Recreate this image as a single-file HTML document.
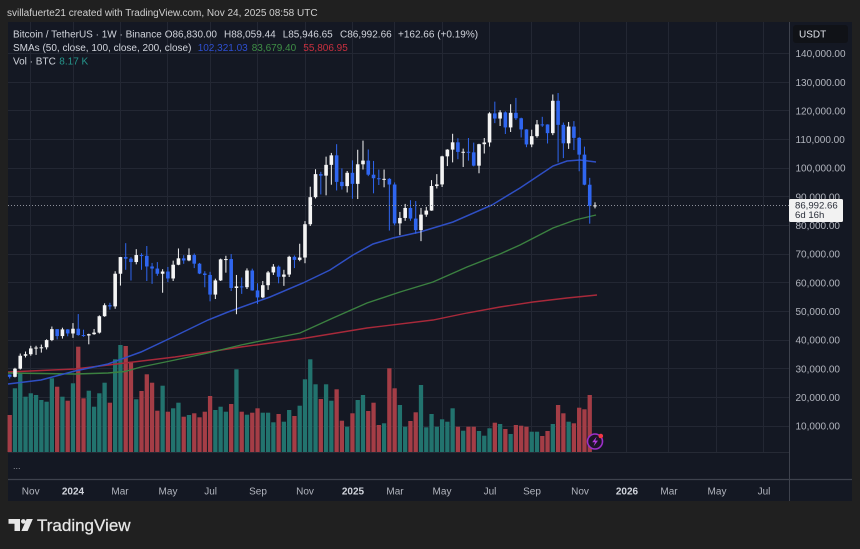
<!DOCTYPE html>
<html>
<head>
<meta charset="utf-8">
<style>
  html,body{margin:0;padding:0;background:#202020;}
  body{width:860px;height:549px;overflow:hidden;position:relative;font-family:"Liberation Sans",sans-serif;}
  svg{position:absolute;left:0;top:0;display:block;}
  svg text{font-family:"Liberation Sans",sans-serif;}
</style>
</head>
<body>
<svg id="chart" width="860" height="549" viewBox="0 0 860 549" xmlns="http://www.w3.org/2000/svg">
  <rect x="0" y="0" width="860" height="549" fill="#202020"/>
  <!-- header -->
  <text x="7" y="16" font-size="10" fill="#cfcfcf">svillafuerte21 created with TradingView.com, Nov 24, 2025 08:58 UTC</text>
  <!-- panel -->
  <rect x="8" y="22" width="844" height="479" fill="#141823"/>

  <!-- horizontal grid -->
  <g stroke="#232733" stroke-width="1">
    <line x1="8" x2="789" y1="53.5" y2="53.5"/>
    <line x1="8" x2="789" y1="82.5" y2="82.5"/>
    <line x1="8" x2="789" y1="110.5" y2="110.5"/>
    <line x1="8" x2="789" y1="139.5" y2="139.5"/>
    <line x1="8" x2="789" y1="168.5" y2="168.5"/>
    <line x1="8" x2="789" y1="196.5" y2="196.5"/>
    <line x1="8" x2="789" y1="225.5" y2="225.5"/>
    <line x1="8" x2="789" y1="254.5" y2="254.5"/>
    <line x1="8" x2="789" y1="282.5" y2="282.5"/>
    <line x1="8" x2="789" y1="311.5" y2="311.5"/>
    <line x1="8" x2="789" y1="340.5" y2="340.5"/>
    <line x1="8" x2="789" y1="368.5" y2="368.5"/>
    <line x1="8" x2="789" y1="397.5" y2="397.5"/>
    <line x1="8" x2="789" y1="426.5" y2="426.5"/>
  </g>
  <!-- vertical grid -->
  <g stroke="#232733" stroke-width="1">
    <line y1="22" y2="452" x1="30.5" x2="30.5"/>
    <line y1="22" y2="452" x1="73.5" x2="73.5"/>
    <line y1="22" y2="452" x1="120.5" x2="120.5"/>
    <line y1="22" y2="452" x1="167.5" x2="167.5"/>
    <line y1="22" y2="452" x1="210.5" x2="210.5"/>
    <line y1="22" y2="452" x1="257.5" x2="257.5"/>
    <line y1="22" y2="452" x1="305.5" x2="305.5"/>
    <line y1="22" y2="452" x1="352.5" x2="352.5"/>
    <line y1="22" y2="452" x1="394.5" x2="394.5"/>
    <line y1="22" y2="452" x1="442.5" x2="442.5"/>
    <line y1="22" y2="452" x1="489.5" x2="489.5"/>
    <line y1="22" y2="452" x1="531.5" x2="531.5"/>
    <line y1="22" y2="452" x1="579.5" x2="579.5"/>
    <line y1="22" y2="452" x1="626.5" x2="626.5"/>
    <line y1="22" y2="452" x1="668.5" x2="668.5"/>
    <line y1="22" y2="452" x1="716.5" x2="716.5"/>
    <line y1="22" y2="452" x1="763.5" x2="763.5"/>
  </g>
  <line x1="8" x2="789" y1="452.5" y2="452.5" stroke="#262a35" stroke-width="1"/>

  <!-- volume -->
  <g id="vol"></g>

  <!-- SMAs -->
  <polyline fill="none" stroke="#a8293a" stroke-width="1.4" points="8,372 75,369 125,363 175,357 241,347 300,339 367,328 433,320 467,313 500,307 533,302 567,298 597,295"/>
  <polyline fill="none" stroke="#3b8040" stroke-width="1.4" points="8,373 75,374 108,373 125,371.5 141,367 175,360 208,353 241,345 275,338 300,333 333,318 367,303 400,292 433,282 467,267 500,254 520,245 553,228 575,220 596,215"/>
  <polyline fill="none" stroke="#2f4fc4" stroke-width="1.5" points="8,384 41,380 75,371 108,364 141,352 175,336 208,320 228,312 270,297 303,283 330,270 353,255 373,244 393,238 420,232 453,222 492,205 520,188 553,166 567,161 580,160 596,162"/>

  <!-- candles -->
  <g id="cdl"></g>

  <!-- current price dotted line -->
  <line x1="8" x2="789" y1="205.5" y2="205.5" stroke="#8d909a" stroke-width="1" stroke-dasharray="1 2"/>

  <!-- separators -->
  <line x1="8" x2="852" y1="479.5" y2="479.5" stroke="#3e424d" stroke-width="1.2"/>
  <line x1="789.5" x2="789.5" y1="22" y2="501" stroke="#3e424d" stroke-width="1"/>

  <!-- legend -->
  <g font-size="10" fill="#d1d4dc">
    <text x="13" y="37.6">Bitcoin / TetherUS · 1W · Binance</text>
    <text x="164.7" y="37.6">O86,830.00</text>
    <text x="224" y="37.6">H88,059.44</text>
    <text x="282.7" y="37.6">L85,946.65</text>
    <text x="340" y="37.6">C86,992.66</text>
    <text x="398" y="37.6">+162.66 (+0.19%)</text>
    <text x="13" y="51">SMAs (50, close, 100, close, 200, close)</text>
    <text x="197.7" y="51" fill="#2e4fd0">102,321.03</text>
    <text x="251.7" y="51" fill="#3f8f46">83,679.40</text>
    <text x="303.3" y="51" fill="#c8303f">55,806.95</text>
    <text x="13" y="64.5">Vol · BTC</text>
    <text x="59.3" y="64.5" fill="#26968c">8.17 K</text>
  </g>

  <!-- price axis -->
  <rect x="793" y="25" width="55" height="18" rx="3" fill="#101217"/>
  <text x="799" y="37.6" font-size="10" fill="#e0e3ea">USDT</text>
  <g font-size="10" fill="#b2b5be">
    <text x="795.5" y="57.1">140,000.00</text>
    <text x="795.5" y="85.8">130,000.00</text>
    <text x="795.5" y="114.4">120,000.00</text>
    <text x="795.5" y="143.1">110,000.00</text>
    <text x="795.5" y="171.7">100,000.00</text>
    <text x="795.5" y="200.4">90,000.00</text>
    <text x="795.5" y="229">80,000.00</text>
    <text x="795.5" y="257.7">70,000.00</text>
    <text x="795.5" y="286.3">60,000.00</text>
    <text x="795.5" y="315">50,000.00</text>
    <text x="795.5" y="343.6">40,000.00</text>
    <text x="795.5" y="372.3">30,000.00</text>
    <text x="795.5" y="400.9">20,000.00</text>
    <text x="795.5" y="429.6">10,000.00</text>
  </g>
  <rect x="789" y="199" width="54" height="23" rx="1.5" fill="#f2f2f2"/>
  <text x="795" y="208.6" font-size="9.6" fill="#2a2e39">86,992.66</text>
  <text x="795" y="218.2" font-size="9.6" fill="#2a2e39">6d 16h</text>

  <!-- time axis -->
  <g font-size="10" fill="#b2b5be" text-anchor="middle">
    <text x="30.7" y="494.6">Nov</text>
    <text x="73" y="494.6" font-weight="bold" fill="#d1d4dc">2024</text>
    <text x="120" y="494.6">Mar</text>
    <text x="168" y="494.6">May</text>
    <text x="210.6" y="494.6">Jul</text>
    <text x="258" y="494.6">Sep</text>
    <text x="305" y="494.6">Nov</text>
    <text x="353" y="494.6" font-weight="bold" fill="#d1d4dc">2025</text>
    <text x="395" y="494.6">Mar</text>
    <text x="442" y="494.6">May</text>
    <text x="490" y="494.6">Jul</text>
    <text x="532" y="494.6">Sep</text>
    <text x="580" y="494.6">Nov</text>
    <text x="627" y="494.6" font-weight="bold" fill="#d1d4dc">2026</text>
    <text x="669" y="494.6">Mar</text>
    <text x="717" y="494.6">May</text>
    <text x="764" y="494.6">Jul</text>
  </g>

  <!-- collapsed pane dots -->
  <text x="13" y="469" font-size="9" fill="#9598a1">...</text>

  <!-- lightning icon -->
  <circle cx="595" cy="441.5" r="7.5" fill="#1c1526" stroke="#9c2fc9" stroke-width="1.6"/>
  <path d="M596.6 436.6 L592.2 442.2 L595 442.2 L593.6 446.4 L598 440.6 L595.2 440.6 Z" fill="#b23be0"/>
  <circle cx="600.8" cy="436" r="2.3" fill="#f23645"/>

  <!-- footer logo -->
  <g fill="#e6e6e6">
    <path d="M8.5 519 H20 V531 H14.5 V523.8 H8.5 Z"/>
    <circle cx="23.3" cy="521.4" r="2.3"/>
    <polygon points="26.6,519 32.8,519 27.6,531 21.4,531"/>
  </g>
  <text x="37" y="531" font-size="17" fill="#e6e6e6" stroke="#e6e6e6" stroke-width="0.25">TradingView</text>
</svg>

<script>
(function(){
  var D=[
  [27.95,28.0,26.55,27.15],[27.15,30.3,26.95,29.99],[29.99,35.28,29.7,34.5],[34.5,35.98,33.9,35.03],
  [35.03,37.97,34.5,37.06],[37.06,37.98,34.8,37.36],[37.36,38.4,35.6,37.45],[37.45,40.25,36.7,39.97],
  [39.97,44.7,39.6,43.79],[43.79,43.8,40.2,41.37],[41.37,44.3,40.5,43.7],[43.7,43.8,41.3,42.28],
  [42.28,45.9,40.75,43.93],[43.93,49.05,41.5,41.73],[41.73,43.6,41.1,41.58],[41.58,42.2,38.5,42.03],
  [42.03,43.85,41.8,42.58],[42.58,48.6,42.25,48.3],[48.3,52.8,48.1,52.14],[52.14,52.98,50.6,51.73],
  [51.73,64.0,50.9,63.13],[63.13,69.0,59.0,68.95],[68.95,73.8,64.5,68.39],[68.39,68.9,60.77,67.21],
  [67.21,71.7,66.4,69.65],[69.65,70.3,64.5,69.36],[69.36,72.8,60.6,65.66],[65.66,66.9,59.6,64.94],
  [64.94,67.2,62.4,63.12],[63.12,64.7,56.5,63.9],[63.9,65.5,60.2,61.48],[61.48,67.7,60.6,66.27],
  [66.27,71.95,66.1,68.51],[68.51,69.6,66.6,67.76],[67.76,71.98,67.5,69.65],[69.65,70.2,65.1,66.64],
  [66.64,66.9,63.0,63.2],[63.2,64.0,58.4,62.7],[62.7,63.8,53.5,55.85],[55.85,61.4,54.3,60.8],
  [60.8,68.4,60.6,68.15],[68.15,69.4,63.5,68.25],[68.25,70.0,57.1,58.16],[58.16,62.7,49.0,58.71],
  [58.71,61.8,56.1,58.43],[58.43,65.0,57.8,64.25],[64.25,64.9,57.2,57.3],[57.3,59.8,52.55,54.86],
  [54.86,60.6,54.6,59.13],[59.13,64.1,57.5,63.58],[63.58,66.5,62.7,65.6],[65.6,66.0,59.8,62.07],
  [62.07,64.5,58.9,62.85],[62.85,69.4,62.0,69.03],[69.03,69.5,65.1,67.97],[67.97,73.6,67.5,68.78],
  [68.78,81.5,66.8,80.4],[80.4,93.5,79.8,89.85],[89.85,99.6,89.4,97.9],[97.9,98.7,90.8,97.37],
  [97.37,104.0,90.5,101.13],[101.13,105.3,94.2,104.46],[104.46,108.35,92.2,95.19],[95.19,99.9,92.5,93.71],
  [93.71,99.0,91.5,98.36],[98.36,102.7,89.3,94.5],[94.5,106.4,89.2,101.33],[101.33,109.59,99.5,102.62],
  [102.62,106.5,97.2,97.7],[97.7,102.5,91.2,96.46],[96.46,99.5,94.1,96.12],[96.12,99.5,93.3,96.25],
  [96.25,96.5,78.2,94.27],[94.27,95.0,80.0,80.7],[80.7,84.7,76.6,82.6],[82.6,87.5,81.6,86.08],
  [86.08,88.8,81.6,82.38],[82.38,88.5,77.1,78.37],[78.37,86.1,74.5,83.76],[83.76,86.5,83.0,85.17],
  [85.17,95.8,85.1,93.75],[93.75,97.9,92.9,94.3],[94.3,104.3,93.4,104.1],[104.1,106.6,100.7,106.45],
  [106.45,111.98,102.0,109.0],[109.0,110.4,103.1,105.65],[105.65,106.8,100.4,105.7],[105.7,110.5,102.6,105.5],
  [105.5,108.9,100.6,100.85],[100.85,108.5,98.2,108.35],[108.35,110.5,105.1,108.95],[108.95,119.5,107.5,119.1],
  [119.1,123.2,115.7,117.3],[117.3,120.2,114.7,119.45],[119.45,119.8,111.9,114.2],[114.2,122.3,112.6,119.3],
  [119.3,124.5,116.8,117.4],[117.4,117.6,110.7,113.5],[113.5,113.6,107.3,108.25],[108.25,113.4,107.3,111.15],
  [111.15,116.8,110.6,115.25],[115.25,117.9,114.4,115.23],[115.23,115.3,108.6,112.2],[112.2,125.7,111.5,123.5],
  [123.5,126.2,102.0,115.1],[115.1,115.9,103.5,108.65],[108.65,116.1,106.7,114.5],[114.5,116.4,106.3,110.55],
  [110.55,110.8,98.9,104.7],[104.7,107.5,94.0,94.2],[94.2,96.6,80.6,86.83],[86.83,88.06,85.95,86.99]
  ];
  var V=[415,388.3,373.3,396.7,393.3,395,400,401.7,378.3,386.7,396.7,400.7,383.3,346.7,398.3,390.7,
  406.7,393.3,382.7,402.7,359.3,345,346,361.7,399.3,391,374.3,382.7,410.7,385.7,411.7,408.3,402.7,
  416.7,415,413.3,417.3,411.7,396,410,406.7,411.7,404,369.3,411.7,414.7,412.7,408.3,412.7,412.7,
  422.3,414,421.7,410,416,405.7,379.3,
  359.3,384.3,399,384.3,400.7,389.3,420.7,426.7,413.3,400,395,411,402.7,425,423.3,368.3,388.3,405,
  426.7,421,412.3,385,427.3,414,426.7,419.3,421.7,408.3,426.7,430.7,426.7,426.7,431,435.7,428.3,
  422.7,424,429,434,425,425.7,426.7,431.7,431.7,436,431,424,405,413.3,421.7,423.3,407.7,409.3,395];
  var NS="http://www.w3.org/2000/svg";
  var X0=9.7,S=5.273;
  function Y(p){return 53.5+(140-p)*2.865;}
  var gv=document.getElementById('vol'), gc=document.getElementById('cdl');
  function el(tag,attrs,parent){var e=document.createElementNS(NS,tag);for(var k in attrs)e.setAttribute(k,attrs[k]);parent.appendChild(e);return e;}
  for(var i=0;i<D.length;i++){
    var o=D[i][0],h=D[i][1],l=D[i][2],c=D[i][3];
    var x=X0+i*S, up=c>=o;
    if(i<V.length){
      el('rect',{x:(x-2.15).toFixed(2),y:V[i],width:4.3,height:(452-V[i]).toFixed(2),fill:up?'#22736e':'#a43d46'},gv);
    }
    var col=up?'#f4f4f4':'#2f66f0';
    el('rect',{x:(x-0.5).toFixed(2),y:Y(h).toFixed(2),width:1,height:Math.max(1,Y(l)-Y(h)).toFixed(2),fill:col},gc);
    var top=Y(Math.max(o,c)), bot=Y(Math.min(o,c));
    el('rect',{x:(x-1.8).toFixed(2),y:top.toFixed(2),width:3.6,height:Math.max(1,bot-top).toFixed(2),fill:col},gc);
  }
})();
</script>
</body>
</html>
